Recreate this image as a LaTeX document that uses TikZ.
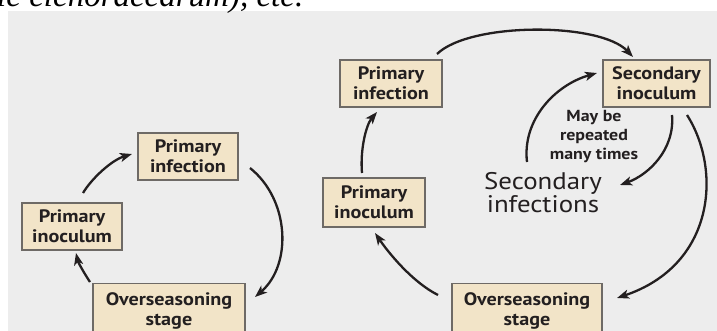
\documentclass[tikz,border=0pt]{standalone}
\usepackage{fontspec}
\setmainfont{PT Sans}
\newfontfamily\widesans{PT Sans}[FakeStretch=1.12]
\newfontfamily\serifit{Liberation Serif}
\usetikzlibrary{arrows.meta}
\definecolor{panel}{HTML}{EDEDED}
\definecolor{boxfill}{HTML}{F2E4C8}
\definecolor{boxline}{HTML}{6E6A66}
\definecolor{ink}{HTML}{231F20}
\tikzset{
  stagebox/.style={draw=boxline, line width=1.3pt, fill=boxfill, text=ink,
    font=\widesans\bfseries\fontsize{18}{20}\selectfont, align=center,
    inner sep=0pt, minimum width=#1},
  cyc/.style={draw=ink, line width=2.3pt,
    -{Stealth[length=12pt,width=9pt,inset=3pt]}},
}
\begin{document}
\begin{tikzpicture}[x=1pt,y=-1pt]
\useasboundingbox (0,0) rectangle (717,331);
\clip (0,0) rectangle (717,331);
\fill[panel] (8,11) rectangle (717,331);
% running text of the page above
\node[anchor=base west, inner sep=0pt, font=\serifit\itshape\fontsize{33}{33}\selectfont, text=black]
  (pagetext) at (-3,7) {le elenoraecarum), etc.};

% --- cycle with a single infection ---
\node[stagebox=100pt, minimum height=47pt] (linf) at (188,156.5) {Primary\\infection};
\node[stagebox=100pt, minimum height=47pt] (linoc) at (72,226.5) {Primary\\inoculum};
\node[stagebox=152pt, minimum height=54pt, anchor=north] (lover) at (169,283) {Overseasoning\\stage};

\draw[cyc] (83,193) coordinate (l1s)
  .. controls (92,178) and (112,160) .. (132,154) coordinate (l1e);
\draw[cyc] (250,168) coordinate (l2s) .. controls (290,200) and (292,265) .. (255,297) coordinate (l2e);
\draw[cyc] (90,282) coordinate (l3s) .. controls (84,273) and (78,262) .. (76,253) coordinate (l3e);

% --- cycle with repeated secondary infections ---
\node[stagebox=102pt, minimum height=47pt] (rinf) at (391,83.5) {Primary\\infection};
\node[stagebox=107pt, minimum height=47pt] (rsec) at (656.5,83.5) {Secondary\\inoculum};
\node[stagebox=102pt, minimum height=49pt] (rinoc) at (374,202.5) {Primary\\inoculum};
\node[stagebox=150pt, minimum height=54pt, anchor=north] (rover) at (527,283) {Overseasoning\\stage};

\node[text=ink, align=center, font=\widesans\bfseries\fontsize{16}{19}\selectfont] (rep) at (594,137)
  {May be\\repeated\\many times};
\node[text=ink, align=center, font=\widesans\fontsize{24}{23}\selectfont] (secinf) at (543,193)
  {Secondary\\infections};

\draw[cyc] (437,54) coordinate (r1s) .. controls (470,22) and (600,22) .. (633,57) coordinate (r1e);
\draw[cyc] (687,115) coordinate (r2s) .. controls (722,170) and (715,265) .. (617,298) coordinate (r2e);
\draw[cyc] (438,295) coordinate (r3s) .. controls (412,282) and (388,252) .. (375,233) coordinate (r3e);
\draw[cyc] (362,173) coordinate (r4s) .. controls (360,150) and (366,125) .. (377,112) coordinate (r4e);
\draw[cyc] (527,162) coordinate (r5s) .. controls (522,120) and (555,85) .. (597,73) coordinate (r5e);
\draw[cyc] (672,115) coordinate (r6s) .. controls (675,150) and (648,175) .. (620,185) coordinate (r6e);
\end{tikzpicture}
\end{document}
